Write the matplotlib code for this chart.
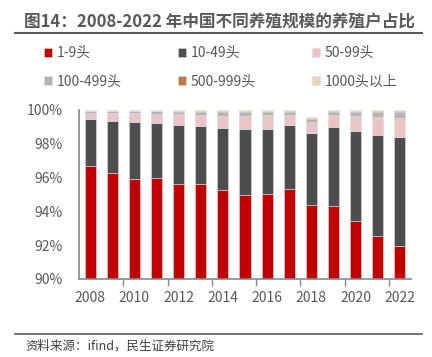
import numpy as np
import matplotlib
matplotlib.use("Agg")
from matplotlib import pyplot as plt
from matplotlib.lines import Line2D

plt.rcParams['font.family'] = ['Noto Sans CJK SC', 'DejaVu Sans']

years = list(range(2008, 2023))
# share of farms (%) by herd size
s_1_9 = [96.71, 96.25, 95.90, 95.99, 95.64, 95.62, 95.25, 94.99, 95.05, 95.34, 94.38, 94.34, 93.43, 92.56, 91.95]
s_10_49 = [2.78, 3.10, 3.37, 3.22, 3.47, 3.43, 3.68, 3.87, 3.85, 3.79, 4.26, 4.65, 5.33, 5.98, 6.43]
s_50_99 = [0.35, 0.49, 0.53, 0.57, 0.63, 0.65, 0.73, 0.78, 0.78, 0.57, 0.63, 0.71, 0.87, 1.07, 1.17]
s_100_499 = [0.10, 0.10, 0.12, 0.14, 0.16, 0.19, 0.23, 0.24, 0.20, 0.18, 0.18, 0.18, 0.25, 0.27, 0.33]
s_500_999 = [0.03, 0.03, 0.04, 0.04, 0.05, 0.05, 0.05, 0.06, 0.06, 0.06, 0.06, 0.06, 0.06, 0.06, 0.06]
s_1000 = [0.03, 0.03, 0.04, 0.04, 0.05, 0.06, 0.06, 0.06, 0.06, 0.06, 0.06, 0.06, 0.06, 0.06, 0.06]

series = [s_1_9, s_10_49, s_50_99, s_100_499, s_500_999, s_1000]
labels = ['1-9头', '10-49头', '50-99头', '100-499头', '500-999头', '1000头以上']
colors = ['#C00000', '#4D4D4F', '#EBC5C6', '#B4B4B4', '#C07844', '#E8D6B6']

W, H = 432, 357
fig = plt.figure(figsize=(W / 100, H / 100), dpi=100)
ax = fig.add_axes([79 / W, 1 - 279 / H, (411 - 79) / W, (279 - 110) / H])

x = np.arange(len(years))
bottom = np.zeros(len(years))
handles = []
for vals, lab, c in zip(series, labels, colors):
    b = ax.bar(x, vals, 0.5, bottom=bottom, color=c, label=lab,
               edgecolor='#dcdcdc', linewidth=0.4)
    handles.append(b)
    bottom += np.array(vals)

ax.set_ylim(90, 100)
ax.set_xlim(-0.5, len(years) - 0.5)
ax.set_yticks(range(90, 101, 2))
ax.set_yticklabels([f'{v}%' for v in range(90, 101, 2)])
ax.set_xticks(x[::2])
ax.set_xticklabels([str(y) for y in years[::2]])
ax.set_xticks(np.arange(1.5, 14, 2), minor=True)
ax.tick_params(axis='x', which='major', length=0, pad=9, labelsize=10, labelcolor='#595959')
ax.tick_params(axis='x', which='minor', length=5, color='#898989', width=1)
ax.tick_params(axis='y', length=0, pad=12, labelsize=10, labelcolor='#595959')
for s in ['top', 'right']:
    ax.spines[s].set_visible(False)
for s in ['left', 'bottom']:
    ax.spines[s].set_color('#898989')
    ax.spines[s].set_linewidth(1.2)

# title and underline
fig.text(24 / W, 1 - 22 / H, '图14：2008-2022 年中国不同养殖规模的养殖户占比',
         fontsize=12, fontweight='bold', color='#595959', va='center', ha='left')
fig.add_artist(Line2D([15 / W, 422 / W], [1 - 33 / H, 1 - 33 / H], color='#595959', lw=1.5))

# legend filled row by row (matplotlib fills by column)
order = [0, 3, 1, 4, 2, 5]
leg = fig.legend(handles=[handles[i] for i in order], labels=[labels[i] for i in order],
                 ncol=3, loc='upper left',
                 bbox_to_anchor=(44 / W, 1 - 46 / H), frameon=False, fontsize=10,
                 handlelength=0.6, handleheight=0.6, handletextpad=0.35,
                 columnspacing=4.0, labelspacing=1.05, borderpad=0, borderaxespad=0)
for t in leg.get_texts():
    t.set_color('#595959')

# source note
fig.add_artist(Line2D([15 / W, 422 / W], [1 - 334 / H, 1 - 334 / H], color='#595959', lw=1.2))
fig.text(25 / W, 1 - 346 / H, '资料来源：ifind，民生证券研究院', fontsize=9,
         color='#404040', va='center', ha='left')

fig.savefig('out.png', dpi=100)
